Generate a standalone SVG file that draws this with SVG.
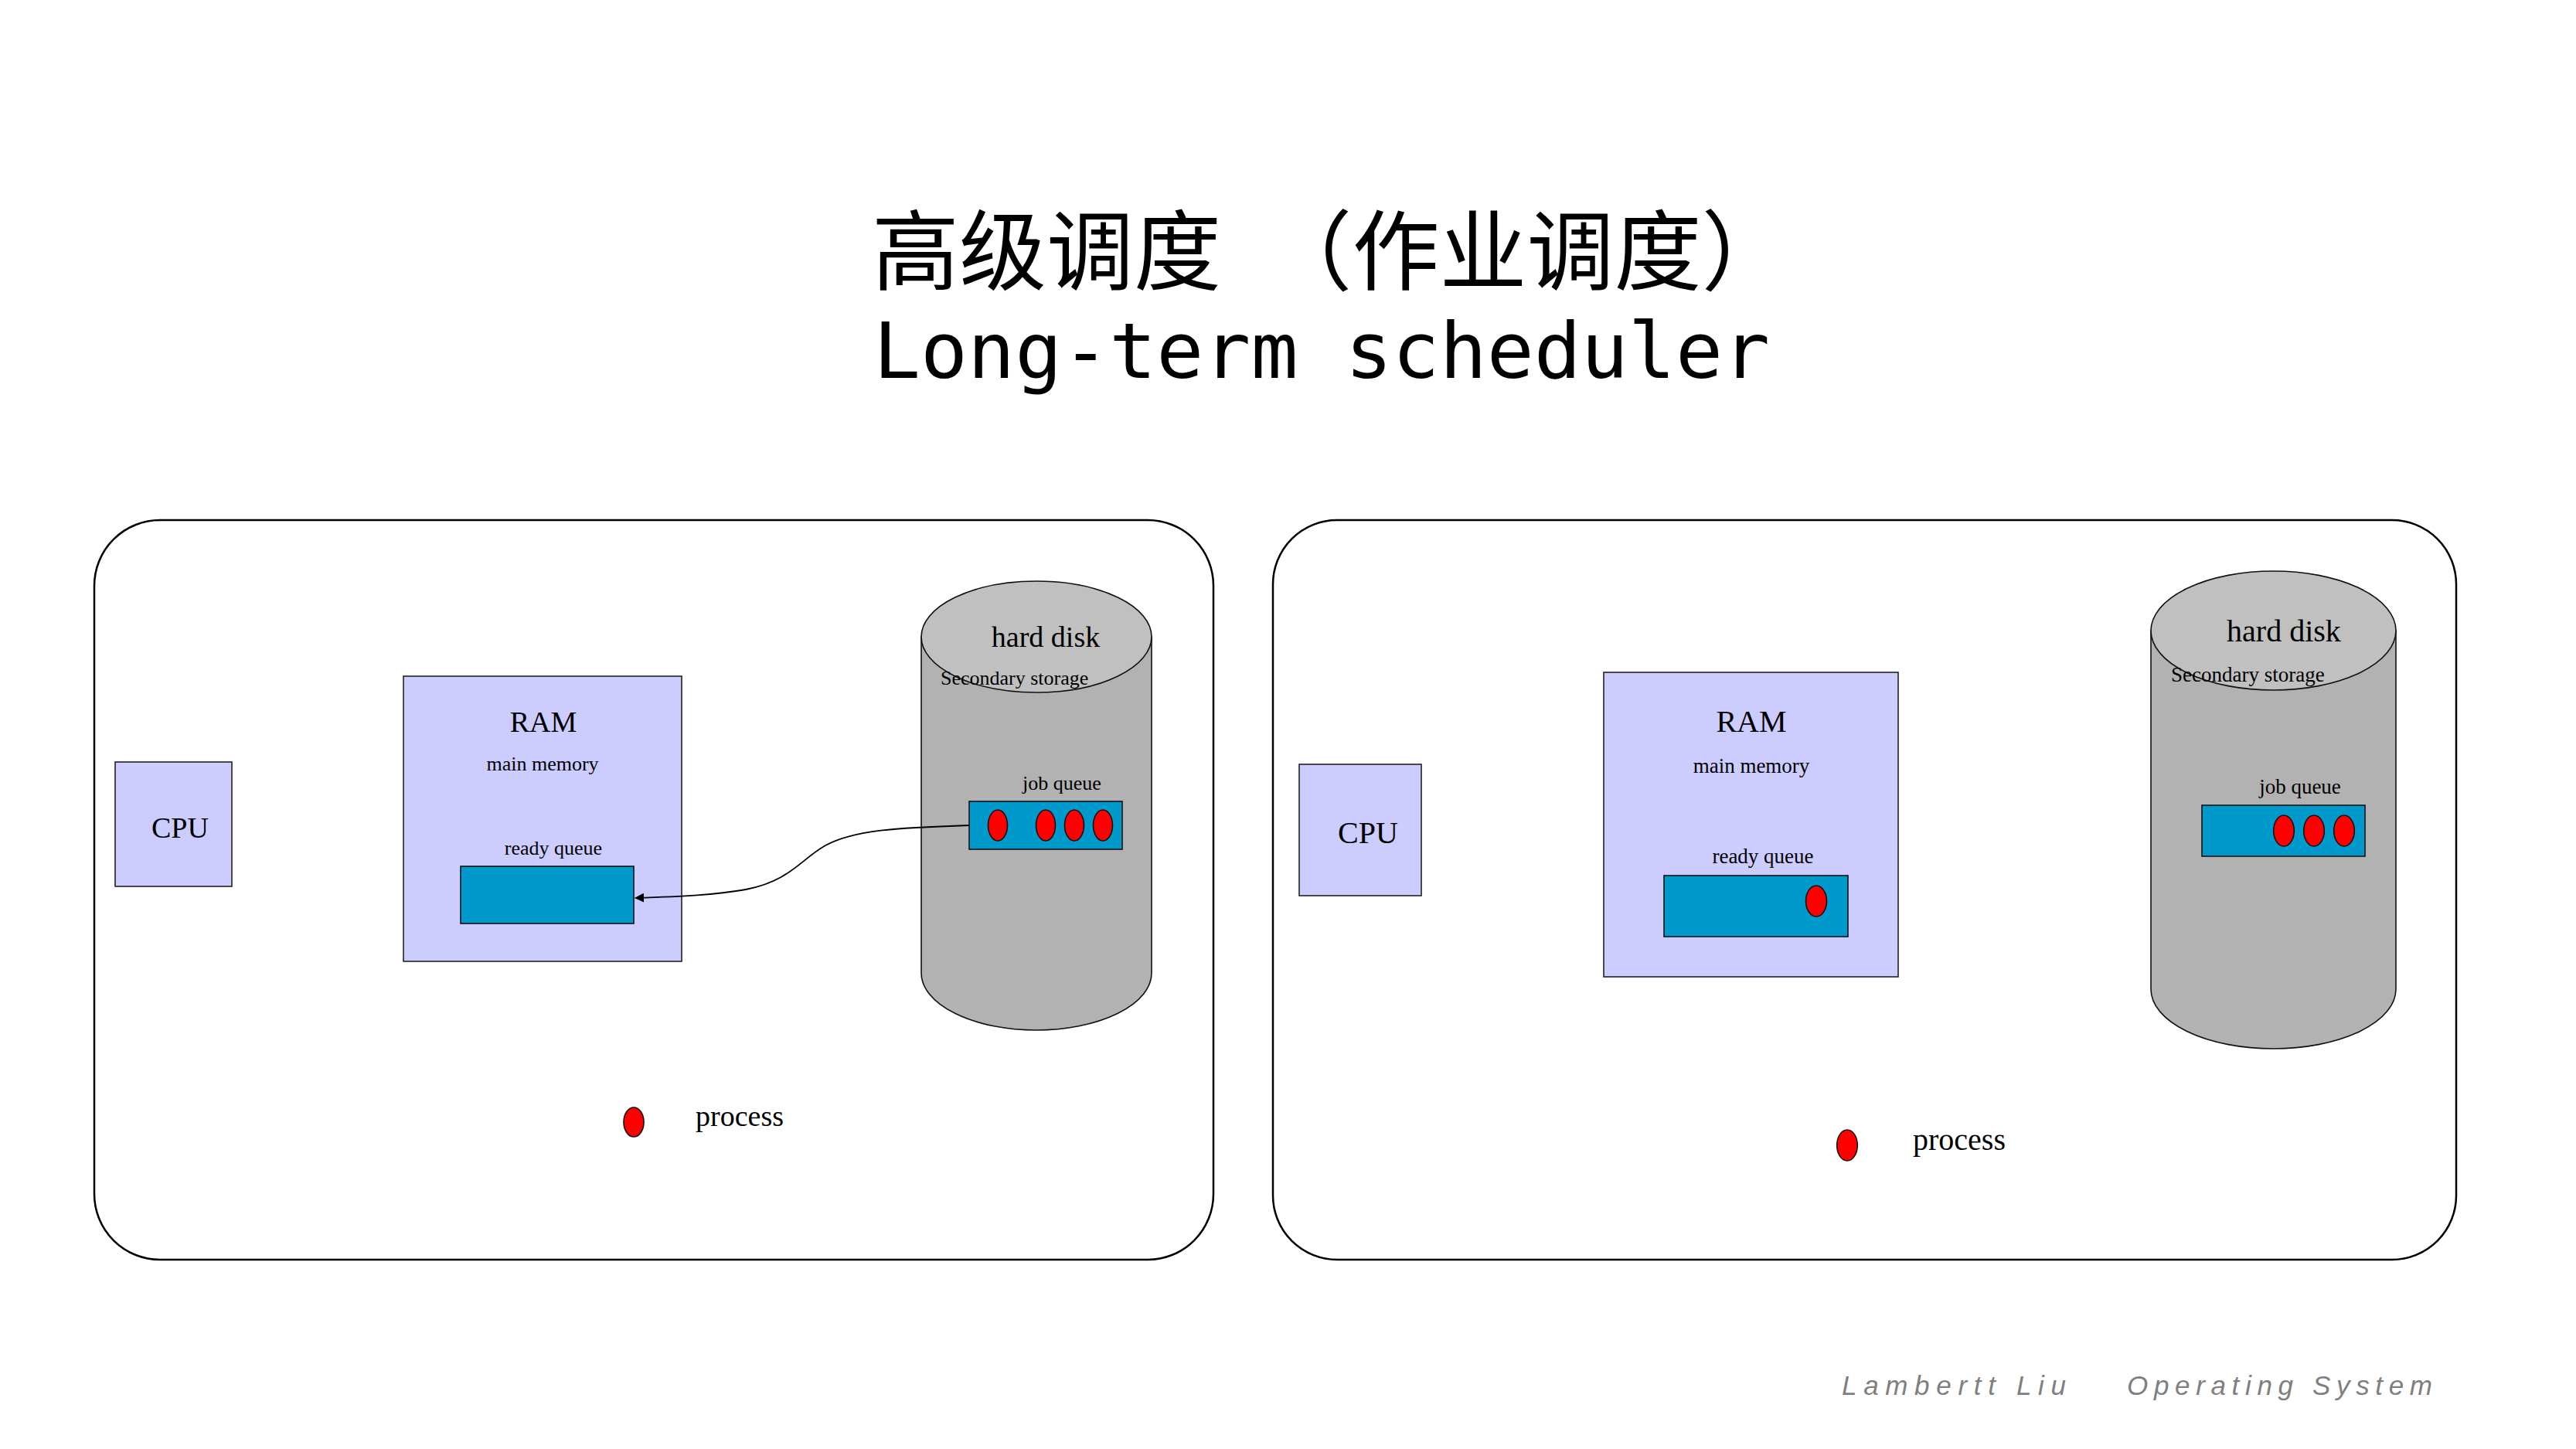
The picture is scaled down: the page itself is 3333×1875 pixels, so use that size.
<svg xmlns="http://www.w3.org/2000/svg" width="3333" height="1875" viewBox="0 0 3333 1875">
<style>
.panel{fill:#ffffff;stroke:#000;stroke-width:2.5}
.box{fill:#ccccff;stroke:#222;stroke-width:1.6}
.queue{fill:#0099cc;stroke:#111;stroke-width:1.6}
.proc{fill:#ff0000;stroke:#111;stroke-width:1.6}
.body{fill:#b2b2b2;stroke:#111;stroke-width:1.6}
.top{fill:#c0c0c0;stroke:#111;stroke-width:1.6}
.t{font-family:"Liberation Serif","Times New Roman",serif;fill:#000}
.m{text-anchor:middle}
.conn{fill:none;stroke:#000;stroke-width:1.8}
</style>
<defs>
<marker id="arr" viewBox="0 0 12 12" refX="11" refY="6" markerWidth="12" markerHeight="12" markerUnits="userSpaceOnUse" orient="auto">
<path d="M0,0 L12,6 L0,12 Z" fill="#000"/>
</marker>
</defs>
<rect width="3333" height="1875" fill="#ffffff"/>
<g id="title">
<text x="1128" y="366" font-family="'Noto Sans CJK SC',sans-serif" font-size="113" fill="#000">高级调度　（作业调度）</text>
<text x="1130" y="489" font-family="'DejaVu Sans Mono',monospace" font-size="100" textLength="1160" lengthAdjust="spacingAndGlyphs" fill="#000">Long-term scheduler</text>
</g>
<g id="panel-left">
<rect class="panel" x="122" y="673" width="1448" height="957" rx="85" ry="85"/>
</g>
<g id="panel-right">
<rect class="panel" x="1647" y="673" width="1531" height="957" rx="83" ry="83"/>
</g>
<g id="cpu-left">
<rect class="box" x="149" y="986" width="151" height="161"/>
<text class="t" x="196" y="1084" font-size="38">CPU</text>
</g>
<g id="ram-left">
<rect class="box" x="522" y="875" width="360" height="369"/>
<text class="t m" x="703" y="947" font-size="38">RAM</text>
<text class="t m" x="702" y="997" font-size="26">main memory</text>
<text class="t m" x="716" y="1106" font-size="26">ready queue</text>
<rect class="queue" x="596" y="1121" width="224" height="74"/>
</g>
<g id="disk-left">
<path class="body" d="M1192,824 L1192,1259 A149,74 0 0 0 1490,1259 L1490,824 Z"/>
<ellipse class="top" cx="1341" cy="824" rx="149" ry="72"/>
<text class="t m" x="1353" y="837" font-size="38">hard disk</text>
<text class="t" x="1217" y="886" font-size="26">Secondary storage</text>
<text class="t m" x="1374" y="1022" font-size="26">job queue</text>
<rect class="queue" x="1254" y="1037" width="198" height="62"/>
<ellipse class="proc" cx="1291" cy="1068" rx="12.5" ry="20"/>
<ellipse class="proc" cx="1353" cy="1068" rx="12.5" ry="20"/>
<ellipse class="proc" cx="1390" cy="1068" rx="12.5" ry="20"/>
<ellipse class="proc" cx="1427" cy="1068" rx="12.5" ry="20"/>
</g>
<g id="legend-left">
<ellipse class="proc" cx="820" cy="1452" rx="13" ry="19"/>
<text class="t" x="900" y="1457" font-size="38">process</text>
</g>
<g id="cpu-right">
<rect class="box" x="1681" y="989" width="158" height="170"/>
<text class="t" x="1731" y="1091" font-size="40">CPU</text>
</g>
<g id="ram-right">
<rect class="box" x="2075" y="870" width="381" height="394"/>
<text class="t m" x="2266" y="947" font-size="40">RAM</text>
<text class="t m" x="2266" y="1000" font-size="27">main memory</text>
<text class="t m" x="2281" y="1117" font-size="27">ready queue</text>
<rect class="queue" x="2153" y="1133" width="238" height="79"/>
<ellipse class="proc" cx="2350" cy="1166" rx="13.5" ry="20"/>
</g>
<g id="disk-right">
<path class="body" d="M2783,816 L2783,1280 A158.5,77 0 0 0 3100,1280 L3100,816 Z"/>
<ellipse class="top" cx="2941.5" cy="816" rx="158.5" ry="77"/>
<text class="t m" x="2955" y="830" font-size="40">hard disk</text>
<text class="t" x="2809" y="882" font-size="27">Secondary storage</text>
<text class="t m" x="2976" y="1027" font-size="27">job queue</text>
<rect class="queue" x="2849" y="1042" width="211" height="66"/>
<ellipse class="proc" cx="2955" cy="1075" rx="13.3" ry="20"/>
<ellipse class="proc" cx="2994" cy="1075" rx="13.3" ry="20"/>
<ellipse class="proc" cx="3033" cy="1075" rx="13.3" ry="20"/>
</g>
<g id="legend-right">
<ellipse class="proc" cx="2390" cy="1482" rx="13.3" ry="20"/>
<text class="t" x="2475" y="1488" font-size="40">process</text>
</g>
<g id="connectors">
<path class="conn" marker-end="url(#arr)" d="M1254,1068 C1160,1071 1105,1074 1068,1094 C1036,1112 1022,1140 965,1151 C925,1158 885,1160 822,1162"/>
</g>
<g id="footer" font-family="'Liberation Sans',Arial,sans-serif" font-style="italic" font-size="35" fill="#7f7f7f">
<text x="2383" y="1805" textLength="290" lengthAdjust="spacing">Lambertt Liu</text>
<text x="2752" y="1805" textLength="395" lengthAdjust="spacing">Operating System</text>
</g>
</svg>
